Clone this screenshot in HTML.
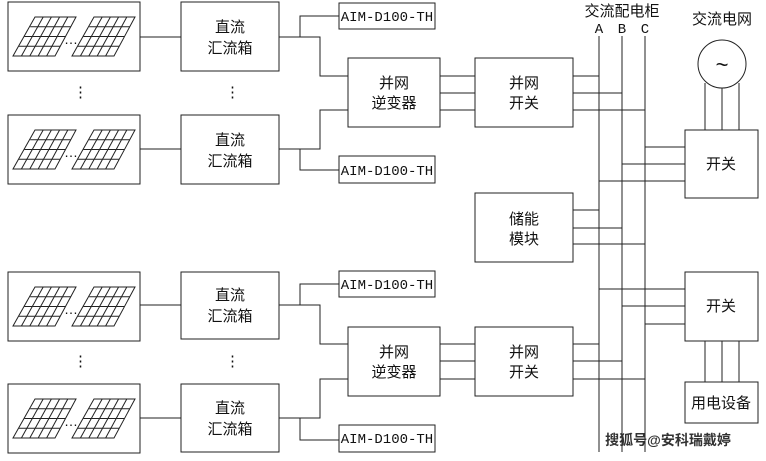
<!DOCTYPE html>
<html><head><meta charset="utf-8"><style>
html,body{margin:0;padding:0;background:#fff;width:766px;height:461px;overflow:hidden}
svg{display:block}
text{font-family:"Liberation Sans","Noto Sans CJK SC",sans-serif;font-size:15px;fill:#111}
.m{font-family:"Liberation Mono","Noto Sans CJK SC",monospace;font-size:14px}
</style></head><body>
<svg width="766" height="461" viewBox="0 0 766 461" xmlns="http://www.w3.org/2000/svg">
<defs>
<g id="panel" fill="none" stroke="#222" stroke-width="1">
<polygon points="13,56 55,56 76,17 35,17"/>
<line x1="30.2" y1="26.75" x2="70.7" y2="26.75"/>
<line x1="24.5" y1="36.5" x2="65.5" y2="36.5"/>
<line x1="18.8" y1="46.25" x2="60.2" y2="46.25"/>
<line x1="21.4" y1="56" x2="43.2" y2="17"/>
<line x1="29.8" y1="56" x2="51.4" y2="17"/>
<line x1="38.2" y1="56" x2="59.6" y2="17"/>
<line x1="46.6" y1="56" x2="67.8" y2="17"/>
</g>
<g id="solar">
<rect x="8" y="2" width="132" height="69" fill="none" stroke="#222"/>
<use href="#panel"/>
<use href="#panel" x="59"/>
<text x="64" y="44" style="font-size:14px">…</text>
</g>
</defs>
<g fill="none" stroke="#222" stroke-width="1">
<rect x="181" y="2" width="98" height="69"/>
<rect x="181" y="115" width="98" height="69"/>
<rect x="181" y="272" width="98" height="67"/>
<rect x="181" y="384" width="98" height="68"/>
<rect x="339" y="3" width="96" height="26"/>
<rect x="339" y="156" width="96" height="27"/>
<rect x="339" y="271" width="96" height="26"/>
<rect x="339" y="425" width="96" height="27"/>
<rect x="348" y="58" width="92" height="69"/>
<rect x="348" y="327" width="92" height="69"/>
<rect x="475" y="58" width="98" height="69"/>
<rect x="475" y="327" width="98" height="69"/>
<rect x="475" y="193" width="98" height="69"/>
<rect x="685" y="130" width="73" height="68"/>
<rect x="685" y="272" width="73" height="69"/>
<rect x="685" y="382" width="73" height="41"/>
<circle cx="722" cy="64" r="24"/>
<line x1="140" y1="37" x2="181" y2="37"/>
<line x1="140" y1="149" x2="181" y2="149"/>
<line x1="140" y1="305" x2="181" y2="305"/>
<line x1="140" y1="418" x2="181" y2="418"/>
<polyline points="279,37 320,37 320,76 348,76"/>
<polyline points="300,37 300,16 339,16"/>
<polyline points="279,149 320,149 320,110 348,110"/>
<polyline points="300,149 300,170 339,170"/>
<polyline points="279,305 320,305 320,344 348,344"/>
<polyline points="300,305 300,284 339,284"/>
<polyline points="279,418 320,418 320,379 348,379"/>
<polyline points="300,418 300,440 339,440"/>
<line x1="440" y1="76" x2="475" y2="76"/><line x1="440" y1="93" x2="475" y2="93"/><line x1="440" y1="110" x2="475" y2="110"/>
<line x1="440" y1="344" x2="475" y2="344"/><line x1="440" y1="361" x2="475" y2="361"/><line x1="440" y1="379" x2="475" y2="379"/>
<line x1="599" y1="36" x2="599" y2="452"/>
<line x1="622" y1="36" x2="622" y2="452"/>
<line x1="645" y1="36" x2="645" y2="452"/>
<line x1="573" y1="76" x2="599" y2="76"/><line x1="573" y1="93" x2="622" y2="93"/><line x1="573" y1="110" x2="645" y2="110"/>
<line x1="573" y1="210" x2="599" y2="210"/><line x1="573" y1="228" x2="622" y2="228"/><line x1="573" y1="244" x2="645" y2="244"/>
<line x1="573" y1="344" x2="599" y2="344"/><line x1="573" y1="361" x2="622" y2="361"/><line x1="573" y1="379" x2="645" y2="379"/>
<line x1="645" y1="147" x2="685" y2="147"/><line x1="622" y1="164" x2="685" y2="164"/><line x1="599" y1="181" x2="685" y2="181"/>
<line x1="599" y1="289" x2="685" y2="289"/><line x1="622" y1="306" x2="685" y2="306"/><line x1="645" y1="324" x2="685" y2="324"/>
<line x1="705" y1="83" x2="705" y2="130"/><line x1="722" y1="88" x2="722" y2="130"/><line x1="739" y1="83" x2="739" y2="130"/>
<line x1="705" y1="341" x2="705" y2="382"/><line x1="722" y1="341" x2="722" y2="382"/><line x1="739" y1="341" x2="739" y2="382"/>
</g>
<use href="#solar"/>
<use href="#solar" y="113"/>
<use href="#solar" y="270"/>
<use href="#solar" y="382"/>
<text x="73" y="97">⋮</text><text x="225" y="97">⋮</text>
<text x="73" y="366">⋮</text><text x="225" y="366">⋮</text>
<g text-anchor="middle">
<text x="230" y="32">直流</text><text x="230" y="53">汇流箱</text>
<text x="230" y="145">直流</text><text x="230" y="166">汇流箱</text>
<text x="230" y="300">直流</text><text x="230" y="321">汇流箱</text>
<text x="230" y="413">直流</text><text x="230" y="434">汇流箱</text>
<text class="m" x="387" y="21">AIM-D100-TH</text>
<text class="m" x="387" y="175">AIM-D100-TH</text>
<text class="m" x="387" y="289">AIM-D100-TH</text>
<text class="m" x="387" y="443">AIM-D100-TH</text>
<text x="394" y="88">并网</text><text x="394" y="108">逆变器</text>
<text x="394" y="357">并网</text><text x="394" y="377">逆变器</text>
<text x="524" y="88">并网</text><text x="524" y="108">开关</text>
<text x="524" y="357">并网</text><text x="524" y="377">开关</text>
<text x="524" y="224">储能</text><text x="524" y="244">模块</text>
<text x="721" y="169">开关</text>
<text x="721" y="311">开关</text>
<text x="721" y="408">用电设备</text>
<text x="622" y="16">交流配电柜</text>
<text x="722" y="24">交流电网</text>
<text x="722" y="72" style="font-size:22px">~</text>
<text class="m" x="599" y="33">A</text><text class="m" x="622" y="33">B</text><text class="m" x="645" y="33">C</text>
<text x="668" y="445" style="font-size:14px;font-weight:bold;fill:#333">搜狐号@安科瑞戴婷</text>
</g>
</svg>
</body></html>
